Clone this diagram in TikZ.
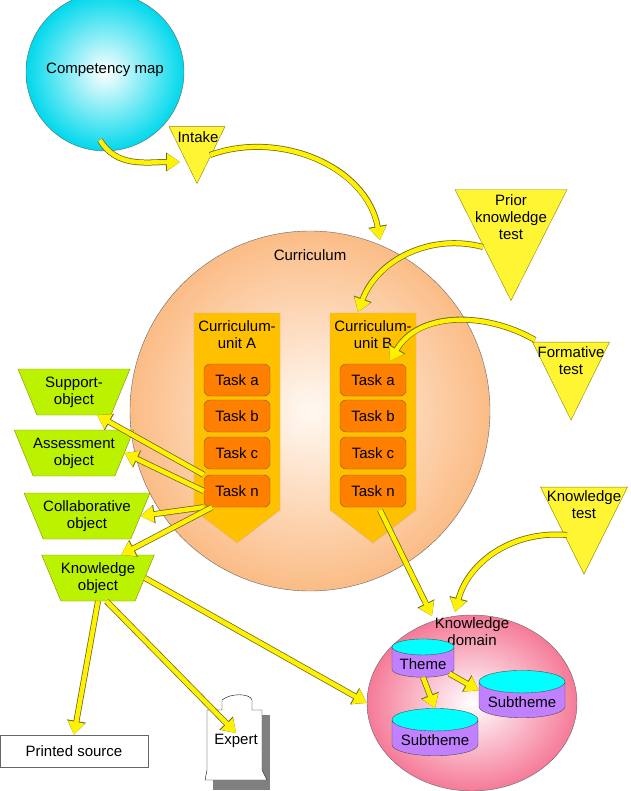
\documentclass[tikz,border=0pt]{standalone}
\usepackage{fontspec}
\setmainfont{Liberation Sans}
\usetikzlibrary{positioning,shapes.geometric,arrows.meta}
\definecolor{kdpink}{HTML}{F57A98}
\definecolor{unitor}{HTML}{FFC000}
\definecolor{taskor}{HTML}{FF8000}
\definecolor{objgreen}{HTML}{BBF200}
\definecolor{cylvio}{HTML}{C080FF}
\definecolor{cyantop}{HTML}{00FFFF}
\definecolor{compout}{HTML}{00D8EC}
\definecolor{currout}{HTML}{FBBC86}

\begin{document}
\begin{tikzpicture}[x=1pt,y=-1pt,font=\fontsize{15}{17}\selectfont,
		fat/.style={line width=4.5pt,yellow,-{Triangle[length=13pt,width=16pt]},
			preaction={draw=olive!70!black,line width=6pt,-{Triangle[length=14pt,width=18pt]}}},
		ball/.style={circle,draw=black!60,shading=radial},
		tri/.style={isosceles triangle,shape border rotate=270,isosceles triangle stretches,
			draw=olive,fill=yellow!80,inner sep=0pt},
		task/.style={rounded corners=6pt,draw=brown!70!black,fill=taskor,minimum width=66pt,minimum height=32pt},
		obj/.style={trapezium,shape border rotate=180,trapezium angle=63,draw=olive,fill=objgreen,
			minimum height=46pt,align=center,inner xsep=0pt,trapezium stretches body},
		cyl/.style={cylinder,shape border rotate=90,aspect=0.3,draw=black!70,cylinder uses custom fill,
			cylinder end fill=cyantop,cylinder body fill=cylvio}]
	\useasboundingbox (0,0) rectangle (630,791);

	% spheres
	\node[ball,inner color=white,outer color=compout,minimum size=158pt] (comp) at (105,72) {};
	\node at (105,70) {Competency map};
	\node[ball,inner color=orange!5,outer color=currout,minimum size=360pt] (curr) at (310,411) {};
	\node at (310,255) {Curriculum};
	\node[ellipse,draw=black!60,shading=radial,inner color=white,outer color=kdpink,
		minimum width=210pt,minimum height=176pt] (kdom) at (472,703) {};
	\node[align=center,inner sep=0pt] (kdlab) at (472,632) {Knowledge\\domain};

	% tests
	\node[tri,minimum width=56pt,minimum height=57pt] (intake) at (197,144) {};
	\node at (198,137) {Intake};
	\node[tri,minimum width=112pt,minimum height=111pt] (prior) at (511,224) {};
	\node[align=center] at (511,217) {Prior\\knowledge\\test};
	\node[tri,minimum width=77pt,minimum height=78pt] (form) at (571,366) {};
	\node[align=center] at (571,361) {Formative\\test};
	\node[tri,minimum width=87pt,minimum height=87pt] (ktest) at (584,514) {};
	\node[align=center] at (584,505) {Knowledge\\test};

	% curriculum units
	\foreach \u/\x in {A/237,B/373}{
		\draw[draw=brown!60,fill=unitor] (\x-43,313) -- (\x+43,313) -- (\x+43,510) -- (\x,543) -- (\x-43,510) -- cycle;
		\node[align=center] at (\x,335) {Curriculum-\\unit \u};
		\node[task] (a\u) at (\x,380) {Task a};
		\node[task] (b\u) at (\x,416) {Task b};
		\node[task] (c\u) at (\x,453) {Task c};
		\node[task] (n\u) at (\x,491) {Task n};
	}

	% objects
	\node[obj,minimum width=112pt] (supp) at (74,392) {Support-\\object};
	\node[obj,minimum width=112pt] (asse) at (74,453) {Assessment\\object};
	\node[obj,minimum width=112pt] (coll) at (87,516) {Collaborative\\object};
	\node[obj,minimum width=112pt] (know) at (98,578) {Knowledge\\object};
	\node[draw=black!60,fill=white,minimum width=148pt,minimum height=32pt] (print) at (74,751) {Printed source};

	% expert
	\fill[black!50] (213,715) rectangle (270,790);
	\draw[fill=white] (207,710) -- (222,710) -- (222,700) .. controls (230,693) and (250,693) .. (252,700) -- (252,710) -- (262,710)
		-- (262,770) -- (267,780) -- (205,780) -- (207,770) -- cycle;
	\node[fill=white,inner sep=1pt] (expert) at (236,741) {Expert};

	% knowledge domain themes
	\node[cyl,minimum width=62pt,minimum height=38pt] (theme) at (423,664) {Theme};
	\node[cyl,minimum width=86pt,minimum height=37pt] (sub1) at (522,702) {Subtheme};
	\node[cyl,minimum width=86pt,minimum height=37pt] (sub2) at (435,740) {Subtheme};

	% connectors
	\coordinate (c1) at (100,140);
	\coordinate (c2) at (180,162);
	\coordinate (c3) at (210,155);
	\coordinate (c4) at (380,240);
	\coordinate (p1) at (483,247);
	\coordinate (p2) at (358,312);
	\coordinate (f1) at (535,340);
	\coordinate (f2) at (390,361);
	\coordinate (k1) at (567,535);
	\coordinate (k2) at (455,612);
	\coordinate (n3) at (380,510);
	\coordinate (d1) at (432,616);
	\draw[fat] (c1) to[out=-60,in=180] (c2);
	\draw[fat] (c3) to[out=20,in=100] (c4);
	\draw[fat] (p1) to[out=165,in=70] (p2);
	\draw[fat] (f1) to[out=150,in=60] (f2);
	\draw[fat] (k1) to[out=175,in=75] (k2);
	\draw[fat] (nA.north west) -- (supp.south east);
	\draw[fat] (nA.west) -- (asse.east);
	\draw[fat] (nA.south west) -- (coll.east);
	\draw[fat] (nA.south) ++(-25,0) coordinate (n2) (n2) -- (know.north east);
	\draw[fat] (n3) -- (d1);
	\draw[fat] (know.south) -- (print.north);
	\draw[fat] (know.-70) -- (expert.north);
	\draw[fat] (know.east) -- (kdom.west);
	\draw[fat] (theme.south) -- (sub2.north);
	\draw[fat] (theme.-20) -- (sub1.165);
\end{tikzpicture}
\end{document}
